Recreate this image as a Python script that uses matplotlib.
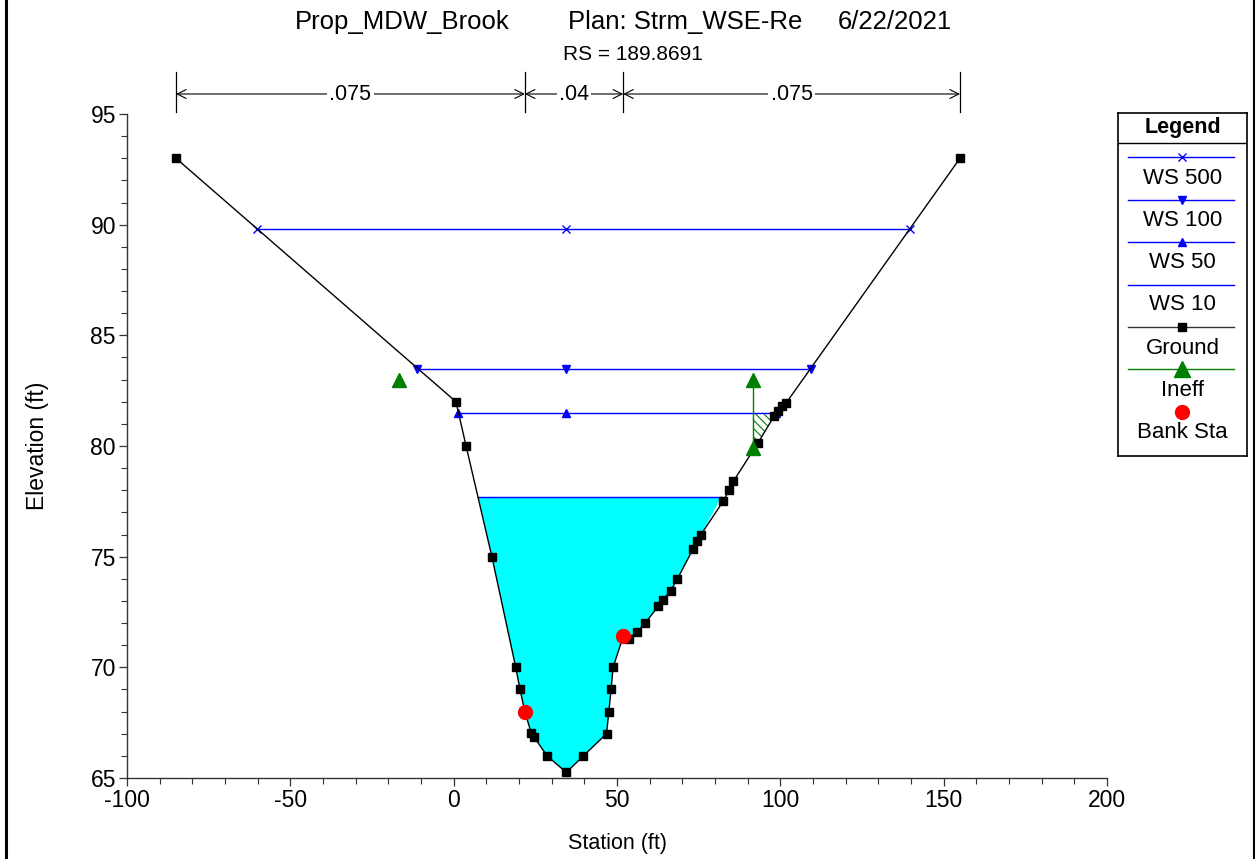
import matplotlib
matplotlib.use("Agg")
import matplotlib.pyplot as plt
import numpy as np
from matplotlib.patches import Polygon
from matplotlib.lines import Line2D
from matplotlib.ticker import MultipleLocator
import matplotlib.transforms as mtransforms

plt.rcParams['font.family'] = ['Liberation Sans', 'DejaVu Sans']
plt.rcParams['axes.unicode_minus'] = False

# ---------------- data ----------------
ground_sta = [-85, 0.7, 3.8, 11.7, 19.0, 20.3, 21.8, 23.7, 24.6, 28.6, 34.5, 39.7,
              46.8, 47.5, 48.2, 48.8, 51.9, 53.8, 56.2, 58.6, 62.6, 64.0, 66.4, 68.5,
              73.3, 74.6, 75.7, 82.5, 84.3, 85.6, 93.2, 98.1, 99.3, 100.5, 101.8, 155]
ground_elev = [93.0, 82.0, 80.0, 75.0, 70.0, 69.0, 68.0, 67.05, 66.85, 66.0, 65.25, 66.0,
               67.0, 68.0, 69.0, 70.0, 71.4, 71.3, 71.6, 72.0, 72.75, 73.05, 73.45, 74.0,
               75.35, 75.7, 76.0, 77.5, 78.0, 78.4, 80.15, 81.35, 81.6, 81.8, 81.95, 93.0]

ws_names = ['WS 500', 'WS 100', 'WS 50', 'WS 10']
ws_elev = [89.8, 83.5, 81.5, 77.7]
ws_left = [-60.1, -11.1, 1.4, 7.6]
ws_right = [139.6, 109.3, 98.8, 82.0]
ws_markers = ['x', 'v', '^', None]

bank_sta = [21.8, 51.9]
bank_elev = [68.0, 71.4]

ineff_left_sta, ineff_left_elev = -16.7, 83.0
ineff_right_sta, ineff_right_elev, ineff_right_ground = 91.6, 83.0, 79.9

n_values = ['.075', '.04', '.075']
n_breaks = [-85, 21.8, 51.9, 155]

title_parts = ['Prop_MDW_Brook', 'Plan: Strm_WSE-Re', '6/22/2021']
rs_label = 'RS = 189.8691'

# ---------------- figure ----------------
W, H = 1255, 859
fig = plt.figure(figsize=(W / 100, H / 100), dpi=100)
fig.patch.set_facecolor('white')

def fx(px):
    return px / W

def fy(py):
    return 1 - py / H

ax = fig.add_axes([fx(127), fy(778), fx(1107) - fx(127), fy(114) - fy(778)])
ax.set_xlim(-100, 200)
ax.set_ylim(65, 95)
for s in ['top', 'right']:
    ax.spines[s].set_visible(False)
for s in ['left', 'bottom']:
    ax.spines[s].set_color('#333333')
    ax.spines[s].set_linewidth(1.0)
ax.xaxis.set_major_locator(MultipleLocator(50))
ax.xaxis.set_minor_locator(MultipleLocator(10))
ax.yaxis.set_major_locator(MultipleLocator(5))
ax.yaxis.set_minor_locator(MultipleLocator(1))
ax.tick_params(which='major', direction='out', length=6, width=0.9, colors='#333333',
               labelcolor='black', labelsize=16.5, pad=2)
ax.tick_params(which='minor', direction='out', length=4, width=0.8, colors='#333333')

gs = np.array(ground_sta)
ge = np.array(ground_elev)

# water fill for lowest WS
wse = ws_elev[3]
l, r = ws_left[3], ws_right[3]
inside = (gs > l) & (gs < r)
poly = [(l, wse)] + list(zip(gs[inside], ge[inside])) + [(r, wse)]
ax.add_patch(Polygon(poly, closed=True, facecolor='#00FFFF', edgecolor='none', zorder=1))

# ineffective hatched region (below WS 50, right of ineff station)
wse50 = ws_elev[2]
r50 = ws_right[2]
inside2 = (gs > ineff_right_sta) & (gs < r50)
hpoly = [(ineff_right_sta, wse50), (ineff_right_sta, ineff_right_ground)] + \
    list(zip(gs[inside2], ge[inside2])) + [(r50, wse50)]
plt.rcParams['hatch.linewidth'] = 0.8
ax.add_patch(Polygon(hpoly, closed=True, fill=False, hatch='\\\\\\\\', edgecolor='green',
                     lw=0, zorder=2))

# water surface lines
thalweg = gs[np.argmin(ge)]
for name, e, a, b, m in zip(ws_names, ws_elev, ws_left, ws_right, ws_markers):
    ax.plot([a, b], [e, e], color='blue', lw=1.0, zorder=3)
    if m is not None:
        ax.plot([a, thalweg, b], [e, e, e], linestyle='none', marker=m, color='blue',
                ms=6, mew=1.0, zorder=4)

# ground
ax.plot(gs, ge, color='black', lw=1.0, marker='s', ms=6, zorder=5)

# ineffective
ax.plot([ineff_right_sta, ineff_right_sta], [ineff_right_ground, ineff_right_elev],
        color='green', lw=1.0, zorder=6)
ax.plot([ineff_left_sta, ineff_right_sta, ineff_right_sta],
        [ineff_left_elev, ineff_right_elev, ineff_right_ground],
        linestyle='none', marker='^', color='green', ms=10, zorder=7)

# bank stations
ax.plot(bank_sta, bank_elev, linestyle='none', marker='o', color='red', ms=10, zorder=8)

ax.set_xlabel('Station (ft)', fontsize=15.5, labelpad=15)
ax.set_ylabel('Elevation (ft)', fontsize=16.5, labelpad=30)

# Manning's n bars above axes
trans = mtransforms.blended_transform_factory(ax.transData, fig.transFigure)
for b in n_breaks:
    ax.add_line(Line2D([b, b], [fy(112), fy(72)], transform=trans, color='black', lw=0.9,
                       clip_on=False))
ya = fy(94)
for i, nv in enumerate(n_values):
    a, b = n_breaks[i], n_breaks[i + 1]
    ax.annotate('', xy=(b, ya), xytext=(a, ya), xycoords=trans, textcoords=trans,
                arrowprops=dict(arrowstyle='<->', lw=0.8, shrinkA=0, shrinkB=0,
                                mutation_scale=16, color='black'),
                annotation_clip=False)
    ax.text((a + b) / 2, ya, nv, transform=trans, ha='center', va='center', fontsize=15.5,
            bbox=dict(facecolor='white', edgecolor='none', pad=1.5), zorder=10, clip_on=False)

# titles
fig.text(fx(295), fy(22), title_parts[0], ha='left', va='center', fontsize=18.5)
fig.text(fx(568), fy(22), title_parts[1], ha='left', va='center', fontsize=18.5)
fig.text(fx(838), fy(22), title_parts[2], ha='left', va='center', fontsize=18.5)
fig.text(fx(633), fy(55), rs_label, ha='center', va='center', fontsize=15)

# legend box
lx0, ly0, lx1, ly1 = 1118, 113, 1247, 456
lax = fig.add_axes([fx(lx0), fy(ly1), fx(lx1) - fx(lx0), fy(ly0) - fy(ly1)])
lax.set_xlim(0, lx1 - lx0)
lax.set_ylim(ly1 - ly0, 0)
lax.set_xticks([])
lax.set_yticks([])
for s in lax.spines.values():
    s.set_linewidth(1.2)
    s.set_color('black')
lax.text(64.5, 15, 'Legend', ha='center', va='center', fontsize=15.5, fontweight='bold')
lax.plot([0, 129], [30, 30], color='black', lw=1.0)

leg_items = [
    ('WS 500', 'blue', 'x', 6),
    ('WS 100', 'blue', 'v', 6),
    ('WS 50', 'blue', '^', 6),
    ('WS 10', 'blue', None, 0),
    ('Ground', '#333333', 's', 6),
    ('Ineff', 'green', '^', 11),
]
line_y = [44, 87, 129, 172, 214, 256]
label_y = [66, 107, 149, 192, 235, 278]
for (lab, col, m, ms), yy, ty in zip(leg_items, line_y, label_y):
    lax.plot([10, 116], [yy, yy], color=col, lw=1.0)
    if m is not None:
        mc = 'black' if lab == 'Ground' else col
        lax.plot([64], [yy], marker=m, color=mc, ms=ms, mew=1.0, linestyle='none')
    lax.text(64.5, ty, lab, ha='center', va='center', fontsize=16)
lax.plot([64], [299], marker='o', color='red', ms=10, linestyle='none')
lax.text(64.5, 320, 'Bank Sta', ha='center', va='center', fontsize=16)

# outer vertical frame lines
for px in [6, 1253.5]:
    fig.add_artist(Line2D([fx(px), fx(px)], [0, 1], transform=fig.transFigure,
                          color='black', lw=2.2))

fig.savefig('out.png', dpi=100, facecolor='white')
